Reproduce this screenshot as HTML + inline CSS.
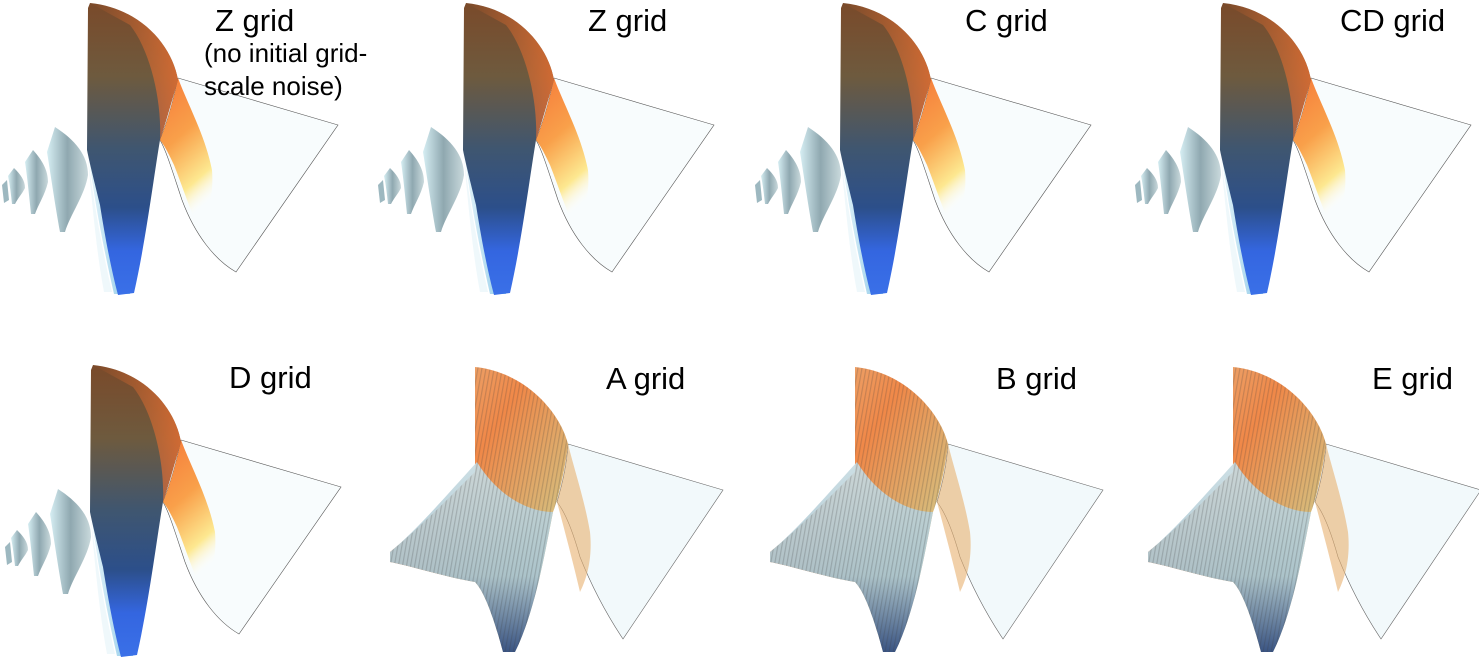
<!DOCTYPE html>
<html><head><meta charset="utf-8"><style>
html,body{margin:0;padding:0;background:#fff;width:1479px;height:661px;overflow:hidden}
svg{display:block}
text{font-family:"Liberation Sans",Arial,sans-serif;fill:#000}
</style></head><body>
<svg width="1479" height="661" viewBox="0 0 1479 661" xmlns="http://www.w3.org/2000/svg">
<defs>
<linearGradient id="wall" x1="0" y1="0" x2="0" y2="1">
<stop offset="0" stop-color="#7a4a2a"/><stop offset="0.25" stop-color="#6e5a3e"/>
<stop offset="0.5" stop-color="#3f5670"/><stop offset="0.7" stop-color="#2c4f8a"/>
<stop offset="0.85" stop-color="#3466e0"/><stop offset="1" stop-color="#3a70e8"/></linearGradient>
<linearGradient id="slope" x1="0" y1="0" x2="0.3" y2="1">
<stop offset="0" stop-color="#f57a3a"/><stop offset="0.45" stop-color="#f9a04a"/>
<stop offset="0.8" stop-color="#fde890"/><stop offset="1" stop-color="#fff" stop-opacity="0"/></linearGradient>
<linearGradient id="rip" x1="0" y1="0" x2="1" y2="0">
<stop offset="0" stop-color="#d6eef3"/><stop offset="0.5" stop-color="#8fa8b0"/><stop offset="1" stop-color="#c9d9dc"/></linearGradient>
<linearGradient id="troughL" x1="0" y1="0" x2="1" y2="0">
<stop offset="0" stop-color="#e8f6fa"/><stop offset="1" stop-color="#8cc8e8"/></linearGradient>
<linearGradient id="rim" x1="0" y1="0" x2="1" y2="0">
<stop offset="0" stop-color="#e86e30" stop-opacity="0"/><stop offset="1" stop-color="#e86e30" stop-opacity="0.8"/></linearGradient>
<linearGradient id="nwall" x1="0" y1="0" x2="1" y2="1">
<stop offset="0" stop-color="#e7c090"/><stop offset="0.4" stop-color="#f08848"/>
<stop offset="0.7" stop-color="#d8b878"/><stop offset="1" stop-color="#f4f0e0"/></linearGradient>
<linearGradient id="nleft" x1="0" y1="0" x2="0" y2="1">
<stop offset="0" stop-color="#c8dce2"/><stop offset="0.6" stop-color="#a8c4d0"/><stop offset="1" stop-color="#2c4a80"/></linearGradient>
<pattern id="stripes" width="4" height="4" patternUnits="userSpaceOnUse" patternTransform="rotate(10)">
<rect width="1.2" height="4" fill="#3a3a3a" opacity="0.22"/></pattern>

<g id="smooth">
<path d="M178,78 L338,125 L236,272 C215,260 195,235 182,200 C172,170 166,150 160,140 C168,120 174,98 178,78 Z" fill="#f8fcfd" stroke="#555" stroke-width="0.6"/>
<path d="M178,78 C188,105 205,135 212,170 C214,195 208,215 200,232 C190,210 182,185 174,165 C168,152 164,145 160,140 C168,120 174,98 178,78 Z" fill="url(#slope)"/>
<path d="M88,150 C94,200 104,250 114,294 L130,294 C118,250 106,200 88,150 Z" fill="url(#troughL)"/>
<path d="M90,3 C140,8 172,45 178,80 C172,100 166,122 160,140 C154,175 146,240 134,293 L118,295 C110,265 104,230 100,205 C94,180 90,165 87,150 L88,8 Z" fill="url(#wall)"/>
<path d="M90,3 C140,8 172,45 178,80 C172,100 166,122 160,140 C162,100 150,50 130,25 Z" fill="url(#rim)"/>
<path d="M87,150 C92,190 100,240 112,292 L104,292 C96,250 92,200 87,150 Z" fill="#e8f5fa" opacity="0.7"/>
<path d="M55,127 C75,140 88,155 88,175 C85,195 70,215 65,232 L60,232 C55,205 50,170 47,152 Z" fill="url(#rip)"/>
<path d="M33,150 C42,160 48,170 48,182 C45,195 38,205 35,214 L31,214 C29,195 27,175 25,162 Z" fill="url(#rip)"/>
<path d="M14,168 C20,174 25,180 25,188 C22,194 18,198 15,204 L12,204 C11,195 10,185 8,176 Z" fill="url(#rip)"/>
<path d="M2,185 L7,180 L9,200 L4,203 Z" fill="#9db8c0"/>
</g>

<g id="noisy">
<path d="M183,82 L338,128 L238,277 C220,250 205,220 195,195 C188,170 180,150 172,140 C178,120 182,100 183,82 Z" fill="#f2f9fb" stroke="#666" stroke-width="0.6"/>
<path d="M183,82 C190,110 200,140 205,170 C208,200 200,220 195,230 C188,200 180,170 172,140 C178,120 182,100 183,82 Z" fill="#e8b070" opacity="0.6"/>
<path d="M90,5 C140,10 175,50 183,82 C180,110 172,140 168,150 C160,190 150,250 130,290 L118,290 C110,260 100,230 90,220 C60,215 30,205 5,200 L5,190 C30,170 60,140 90,110 Z" fill="url(#nwall)"/>
<path d="M5,190 C30,170 60,135 92,100 C110,130 140,150 168,150 C160,190 150,250 130,290 L118,290 C110,260 100,230 90,220 C60,215 30,205 5,200 Z" fill="url(#nleft)" opacity="0.92"/>
<path d="M90,5 C140,10 175,50 183,82 C180,110 172,140 168,150 C160,190 150,250 130,290 L118,290 C110,260 100,230 90,220 C60,215 30,205 5,200 L5,190 C30,170 60,140 90,110 Z" fill="url(#stripes)"/>
</g>
</defs>

<use href="#smooth" x="0" y="0"/>
<use href="#smooth" x="376" y="0"/>
<use href="#smooth" x="753" y="0"/>
<use href="#smooth" x="1133" y="0"/>
<use href="#smooth" x="3" y="362"/>
<use href="#noisy" x="385" y="362"/>
<use href="#noisy" x="765" y="362"/>
<use href="#noisy" x="1143" y="362"/>

<text x="215" y="31" font-size="31">Z grid</text>
<text x="204" y="62" font-size="26">(no initial grid-</text>
<text x="204" y="95" font-size="26">scale noise)</text>
<text x="588" y="31" font-size="31">Z grid</text>
<text x="965" y="31" font-size="31">C grid</text>
<text x="1340" y="31" font-size="31">CD grid</text>
<text x="229" y="388" font-size="31">D grid</text>
<text x="606" y="389" font-size="31">A grid</text>
<text x="996" y="389" font-size="31">B grid</text>
<text x="1372" y="389" font-size="31">E grid</text>
</svg>
</body></html>
